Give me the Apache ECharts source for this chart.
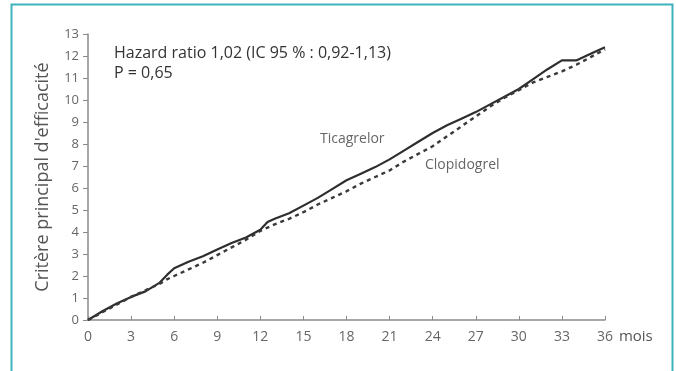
<!DOCTYPE html>
<html><head><meta charset="utf-8">
<script src="https://cdn.jsdelivr.net/npm/echarts@6/dist/echarts.min.js"></script>
<style>html,body{margin:0;padding:0;background:#fff}#c{width:676px;height:371px}</style>
</head><body><div id="c"></div>
<script>
const months = [0,1,2,3,4,5,5.5,6,7,8,9,10,11,12,12.5,13,14,15,16,17,18,19,20,21,22,23,24,25,26,27,28,29,30,31,32,33,34,35,36];
const ticagrelor = [0,0.4,0.75,1.05,1.3,1.7,2.05,2.35,2.65,2.9,3.2,3.5,3.75,4.1,4.45,4.6,4.85,5.2,5.55,5.95,6.35,6.65,6.95,7.3,7.7,8.1,8.5,8.85,9.15,9.45,9.8,10.15,10.5,10.95,11.4,11.8,11.8,12.1,12.4];
const clopidogrel = [0,0.35,0.7,1.05,1.35,1.65,1.85,2.0,2.3,2.6,2.95,3.3,3.65,4.05,4.2,4.35,4.6,4.9,5.25,5.55,5.85,6.2,6.5,6.8,7.2,7.55,7.9,8.35,8.8,9.25,9.7,10.1,10.45,10.8,11.05,11.3,11.6,11.95,12.3];
const seriesNames = ['Ticagrelor','Clopidogrel'];
const hrText = 'Hazard ratio 1,02 (IC 95 % : 0,92-1,13)';
const pText = 'P = 0,65';

const chart = echarts.init(document.getElementById('c'), null, {renderer:'canvas'});
const font = '"Open Sans", "DejaVu Sans", sans-serif';
const axisCol = '#8a8a8a';
chart.setOption({
  animation:false,
  backgroundColor:'#fff',
  grid:{left:88,right:71,top:34,bottom:51},
  xAxis:{type:'value',min:0,max:36,interval:3,
    name:'mois',nameLocation:'end',nameGap:10,
    nameTextStyle:{fontFamily:font,fontSize:15,color:'#555',verticalAlign:'top',padding:[9,0,0,0]},
    axisLine:{lineStyle:{color:axisCol,width:1.5}},
    axisTick:{inside:true,length:4,lineStyle:{color:axisCol}},
    axisLabel:{fontFamily:font,fontSize:14,color:'#666',margin:10},
    splitLine:{show:false}},
  yAxis:{type:'value',min:0,max:13,interval:1,
    name:"Critère principal d'efficacité",nameLocation:'middle',nameGap:36,nameRotate:90,
    nameTextStyle:{fontFamily:font,fontSize:18,color:'#555'},
    axisLine:{show:true,lineStyle:{color:axisCol,width:1.5}},
    axisTick:{show:true,length:5,lineStyle:{color:axisCol}},
    axisLabel:{fontFamily:font,fontSize:13,color:'#666',margin:9},
    splitLine:{show:false}},
  series:[
    {name:seriesNames[0],type:'line',data:months.map((m,i)=>[m,ticagrelor[i]]),showSymbol:false,
      lineStyle:{color:'#2e2e2e',width:2.2}},
    {name:seriesNames[1],type:'line',data:months.map((m,i)=>[m,clopidogrel[i]]),showSymbol:false,
      lineStyle:{color:'#3a3a3a',width:2.4,type:[4,4]}}
  ],
  graphic:[
    {type:'rect',shape:{x:11.5,y:4.5,width:661,height:380},style:{fill:'none',stroke:'#3fb3bd',lineWidth:2}},
    {type:'text',left:114,top:45,style:{text:hrText,font:'16px '+font,fill:'#333'}},
    {type:'text',left:114,top:65,style:{text:pText,font:'16px '+font,fill:'#333'}},
    {type:'text',left:320,top:132,style:{text:seriesNames[0],font:'14px '+font,fill:'#666'}},
    {type:'text',left:425,top:158,style:{text:seriesNames[1],font:'14px '+font,fill:'#666'}}
  ]
});
</script></body></html>
